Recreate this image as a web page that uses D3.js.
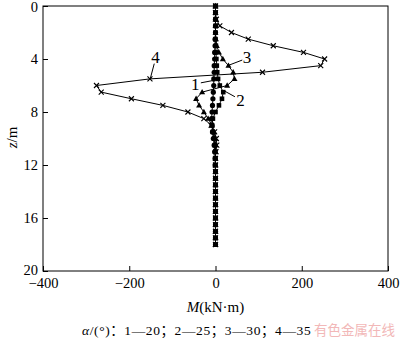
<!DOCTYPE html>
<html><head><meta charset="utf-8">
<script src="https://cdn.jsdelivr.net/npm/d3@7/dist/d3.min.js"></script>
<style>
html,body{margin:0;padding:0;background:#fff;}
svg text{font-family:"Liberation Serif","Times New Roman",serif;fill:#000;}
</style></head>
<body>
<svg id="c" width="400" height="339"></svg>
<script>
// depth z (m)
const depths = [0,0.5,1,1.5,2,2.5,3,3.5,4,4.5,5,5.5,6,6.5,7,7.5,8,8.5,9,9.5,10,10.5,11,11.5,12,12.5,13,13.5,14,14.5,15,15.5,16,16.5,17,17.5,18];
// bending moment M (kN·m) for each series
const series1 = [0,0,0,0,0,-1,-1,-2,-2,-3,-3,-4,-4,-5,-6,-7,-8,-9,-8,-7,-5,-3,-2,-1,-1,0,0,0,0,0,0,0,0,0,0,0,0];
const series2 = [0,0,0,0,0,0,1,1,2,3,4,6,10,18,15,8,0,-6,-8,-6,-3,-1,0,0,0,0,0,0,0,0,0,0,0,0,0,0,0];
const series3 = [0,0,0,0,0,1,3,8,17,30,41,44,27,-31,-45,-38,-27,-17,-8,-3,-1,0,0,0,0,0,0,0,0,0,0,0,0,0,0,0,0];
const series4 = [0,0,2,10,37,76,134,204,253,244,109,-152,-276,-265,-195,-122,-64,-27,-10,-2,2,3,1,0,0,0,0,0,0,0,0,0,0,0,0,0,0];
const seriesNames = ["1","2","3","4"];
const seriesMarkers = ["circle","square","triangle","cross"];
const xTicks = [-400,-200,0,200,400];
const yTicks = [0,4,8,12,16,20];
const xTitle = "(kN·m)";
const yTitle = "/m";
const caption = ["α","/(°)：1—20；2—25；3—30；4—35"];
const watermark = "有色金属在线";
// annotation labels [name, textM, textZ, leaderStartM, leaderStartZ, leaderEndM, leaderEndZ]
const labels = [
  ["4",-139,3.85,-142,4.35,-151,5.45],
  ["3",73,3.92,62,4.08,30,4.48],
  ["1",-47,5.96,-34,5.8,-2,5.6],
  ["2",58,7.1,45,6.85,20,6.4]
];

const svg = d3.select("#c");
const L=43,R=388,T=6,B=271;
const x = d3.scaleLinear().domain([-400,400]).range([L,R]);
const y = d3.scaleLinear().domain([0,20]).range([T,B]);

// frame
svg.append("rect").attr("x",L).attr("y",T).attr("width",R-L).attr("height",B-T)
  .attr("fill","none").attr("stroke","#000").attr("stroke-width",1);

// axes with inward ticks
const xa = svg.append("g").attr("transform",`translate(0,${B})`)
  .call(d3.axisBottom(x).tickValues(xTicks).tickSizeInner(-5).tickSizeOuter(0).tickPadding(7).tickFormat(d=>d<0?"\u2212"+Math.abs(d):d));
const ya = svg.append("g").attr("transform",`translate(${L},0)`)
  .call(d3.axisLeft(y).tickValues(yTicks).tickSizeInner(-5).tickSizeOuter(0).tickPadding(5));
[xa,ya].forEach(g=>{
  g.select(".domain").remove();
  g.selectAll("line").attr("stroke","#000");
  g.selectAll("text").attr("font-size",14.5).attr("font-family","Liberation Serif");
});
ya.selectAll("text").filter(d=>d===0).attr("dy","0.36em");
ya.selectAll("text").filter(d=>d===20).attr("dy","0.22em");

// titles
const xt = svg.append("text").attr("x",x(0)).attr("y",312).attr("text-anchor","middle").attr("font-size",15);
xt.append("tspan").attr("font-style","italic").text("M");
xt.append("tspan").text(xTitle);
const yt = svg.append("text").attr("transform",`translate(17,${y(10)-1}) rotate(-90)`).attr("text-anchor","middle").attr("font-size",15);
yt.append("tspan").attr("font-style","italic").text("z");
yt.append("tspan").text(yTitle);

const cap = svg.append("text").attr("x",82).attr("y",335).attr("font-size",13.5)
  .attr("letter-spacing",0.6)
  .style("font-family","'Liberation Serif','Noto Sans CJK SC',serif");
cap.append("tspan").attr("font-style","italic").text(caption[0]);
cap.append("tspan").text(caption[1]);
svg.append("text").attr("x",314).attr("y",335).attr("font-size",13.5)
  .style("font-family","'Noto Sans CJK SC',sans-serif").style("fill","#f2b8b8").text(watermark);

// lines and markers
const allSeries = [series1,series2,series3,series4];
const line = d3.line().x(d=>x(d[0])).y(d=>y(d[1]));
const order=[3,2,1,0];
order.forEach(si=>{
  const pts = allSeries[si].map((v,i)=>[v,depths[i]]);
  svg.append("path").datum(pts).attr("d",line).attr("fill","none").attr("stroke","#000").attr("stroke-width",1);
  const g = svg.append("g");
  const m = seriesMarkers[si];
  pts.forEach(p=>{
    const cx=x(p[0]), cy=y(p[1]);
    if(m==="circle") g.append("circle").attr("cx",cx).attr("cy",cy).attr("r",2.6).attr("fill","#000");
    else if(m==="square") g.append("rect").attr("x",cx-2.3).attr("y",cy-2.3).attr("width",4.6).attr("height",4.6).attr("fill","#000");
    else if(m==="triangle") g.append("path").attr("d",`M${cx},${cy-3.2}L${cx+3},${cy+2.2}L${cx-3},${cy+2.2}Z`).attr("fill","#000");
    else g.append("path").attr("d",`M${cx-2.5},${cy-2.5}L${cx+2.5},${cy+2.5}M${cx-2.5},${cy+2.5}L${cx+2.5},${cy-2.5}`).attr("stroke","#000").attr("stroke-width",1.1);
  });
});

// annotations
labels.forEach(a=>{
  svg.append("line").attr("x1",x(a[3])).attr("y1",y(a[4])).attr("x2",x(a[5])).attr("y2",y(a[6]))
    .attr("stroke","#000").attr("stroke-width",1);
  svg.append("text").attr("x",x(a[1])).attr("y",y(a[2])).attr("text-anchor","middle")
    .attr("dominant-baseline","central").attr("font-size",17).text(a[0]);
});
</script>
</body></html>
